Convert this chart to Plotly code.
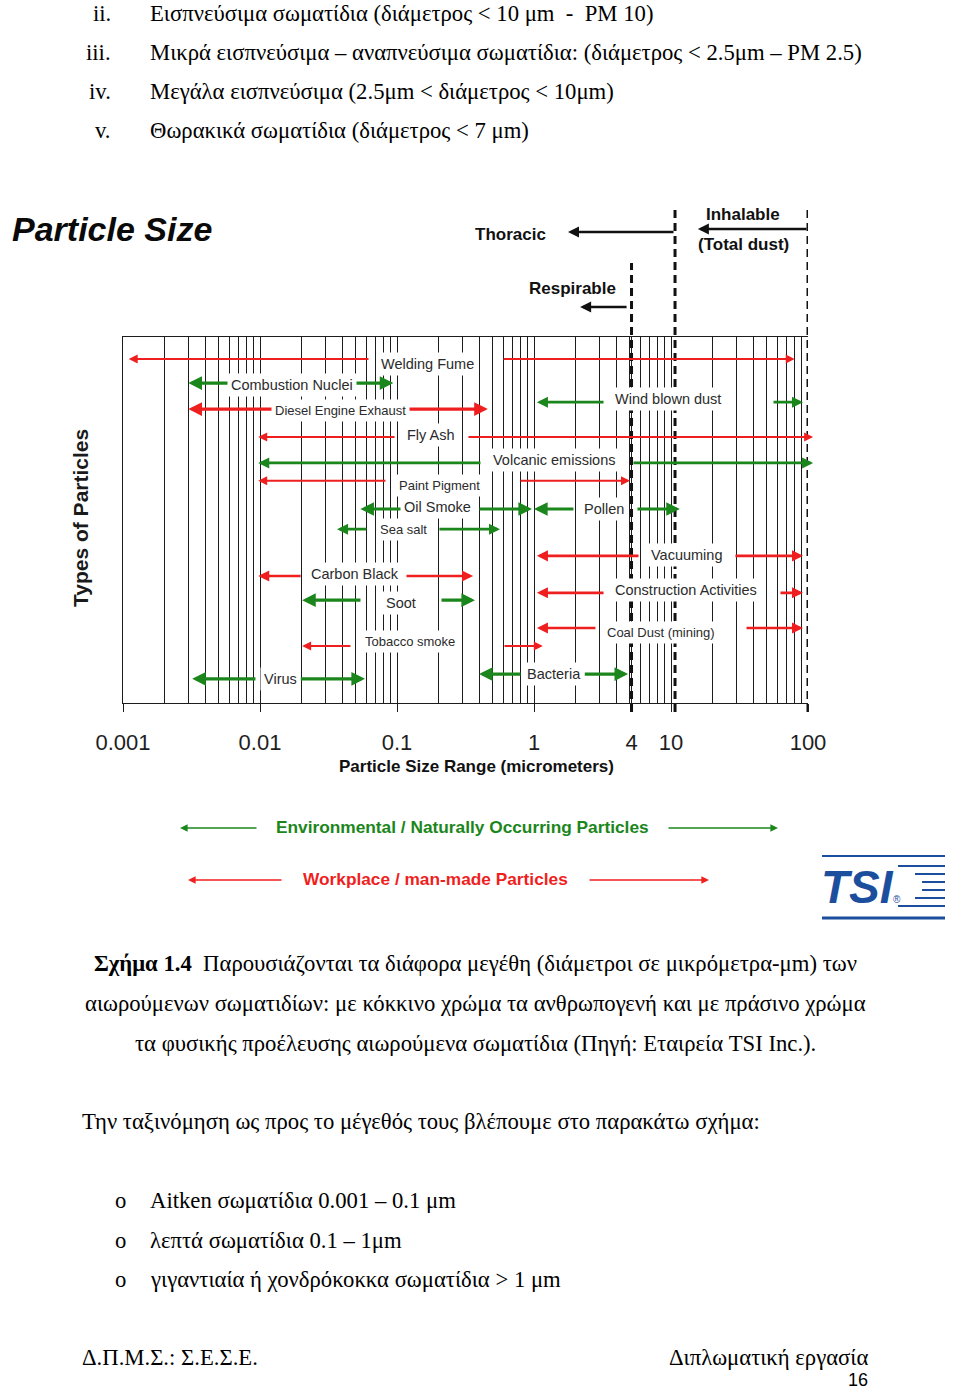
import math
import plotly.graph_objects as go

W, H = 960, 1391

# ---------------- data ----------------
particle_types = ["Welding Fume", "Combustion Nuclei", "Wind blown dust", "Diesel Engine Exhaust",
                  "Fly Ash", "Volcanic emissions", "Paint Pigment", "Oil Smoke", "Pollen",
                  "Sea salt", "Vacuuming", "Carbon Black", "Construction Activities", "Soot",
                  "Coal Dust (mining)", "Tobacco smoke", "Bacteria", "Virus"]
origin = ["work", "env", "env", "work", "work", "env", "work", "env", "env",
          "env", "work", "work", "work", "env", "work", "work", "env", "env"]
# range of sizes (micrometers): arrow tips
size_min = [0.0011, 0.003, 1.05, 0.003, 0.0097, 0.0097, 0.0097, 0.054, 1.0,
            0.0365, 1.05, 0.0097, 1.05, 0.0203, 1.05, 0.0203, 0.397, 0.0032]
size_max = [80, 0.094, 92, 0.46, 109, 109, 5.02, 0.967, 11.6,
            0.565, 92, 0.359, 92, 0.371, 92, 1.16, 4.86, 0.0584]
# where the arrow shafts start on each side of the label
gap_lo = [0.0635, 0.00625, 3.30, 0.0129, 0.0984, 0.417, 0.0845, 0.1106, 1.99,
          0.0614, 5.94, 0.0203, 3.30, 0.0555, 2.88, 0.0469, 0.817, 0.0095]
gap_hi = [0.584, 0.0477, 54.6, 0.1164, 0.324, 5.19, 0.777, 0.390, 5.55,
          0.199, 28.8, 0.1144, 61.4, 0.206, 34.7, 0.594, 2.28, 0.0193]
label_at = [0.166, 0.0171, 9.5, 0.039, 0.177, 1.42, 0.203, 0.199, 3.24,
            0.111, 12.9, 0.0494, 12.9, 0.107, 8.45, 0.124, 1.40, 0.014]
row_level = [94.0, 87.4, 82.2, 80.3, 72.7, 65.6, 60.7, 53.0, 53.0,
             47.5, 40.2, 34.7, 30.1, 28.1, 20.5, 15.6, 7.9, 6.6]

zone_names = ["Respirable", "Thoracic", "Inhalable"]
zone_cut = [5.15, 10.7, 100]
zone_tip = [2.17, 1.77, 15.7]
zone_tail = [4.86, 10.7, 100]

tick_vals = [0.001, 0.01, 0.1, 1, 5.15, 10, 100]
tick_text = ["0.001", "0.01", "0.1", "1", "4", "10", "100"]
minor_vals = [k * 10 ** d for d in range(-3, 2) for k in range(2, 10)]

# ---------------- styles ----------------
SANS = "Liberation Sans, Arial, sans-serif"
SERIF = "Liberation Serif, Times New Roman, serif"
COL = {"env": "#1b861b", "work": "#ef1f1f"}
weight = {"Welding Fume": "thin", "Fly Ash": "thin", "Paint Pigment": "thin", "Tobacco smoke": "thin",
          "Combustion Nuclei": "bold", "Diesel Engine Exhaust": "bold", "Oil Smoke": "bold",
          "Pollen": "bold", "Soot": "bold", "Virus": "bold", "Bacteria": "bold"}
ARROW = {"thin": (2.0, 0.9), "mid": (2.6, 0.85), "bold": (3.2, 0.85)}
small_font = {"Diesel Engine Exhaust", "Paint Pigment", "Coal Dust (mining)", "Tobacco smoke", "Sea salt"}
label_dy = {"Welding Fume": -5, "Combustion Nuclei": -2, "Wind blown dust": 3, "Diesel Engine Exhaust": -1,
            "Fly Ash": 2, "Volcanic emissions": 3, "Paint Pigment": -5, "Oil Smoke": 2, "Vacuuming": 1,
            "Carbon Black": 2, "Construction Activities": 3, "Soot": -3, "Coal Dust (mining)": -5,
            "Tobacco smoke": 4}


def px(p):
    return p / W


def py(p):
    return 1 - p / H


lg = math.log10

fig = go.Figure()
fig.add_trace(go.Scatter(x=label_at, y=row_level, mode="markers", marker=dict(opacity=0),
                         hovertext=particle_types, hoverinfo="text", showlegend=False))

ann = []
# particle range arrows
for i, name in enumerate(particle_types):
    w, s = ARROW[weight.get(name, "mid")]
    c = COL[origin[i]]
    for tail, tip in ((gap_lo[i], size_min[i]), (gap_hi[i], size_max[i])):
        ann.append(dict(x=lg(tip), y=row_level[i], xref="x", yref="y",
                        ax=lg(tail), ay=0, axref="x", ayref="pixel",
                        text="", showarrow=True, arrowhead=2, arrowsize=s,
                        arrowwidth=w, arrowcolor=c, standoff=0))
for i, name in enumerate(particle_types):
    ann.append(dict(x=lg(label_at[i]), y=row_level[i], xref="x", yref="y",
                    yshift=label_dy.get(name, 0), text=name, showarrow=False,
                    bgcolor="white", borderpad=3,
                    font=dict(family=SANS, size=13 if name in small_font else 14.5, color="#2b2b2b")))

# deposition zone arrows (above the chart)
zone_arrow_y = {"Respirable": 307, "Thoracic": 232, "Inhalable": 229}
for i, name in enumerate(zone_names):
    ann.append(dict(x=lg(zone_tip[i]), y=py(zone_arrow_y[name]), xref="x", yref="paper",
                    ax=lg(zone_tail[i]), ay=0, axref="x", ayref="pixel", text="",
                    showarrow=True, arrowhead=2, arrowsize=0.85, arrowwidth=2.6,
                    arrowcolor="#111111", standoff=0))


def text(xp, yp, t, size, family=SANS, color="#111111", xanchor="center", bold=False, **kw):
    if bold:
        t = "<b>" + t + "</b>"
    d = dict(x=px(xp), y=py(yp), xref="paper", yref="paper", text=t, showarrow=False,
             xanchor=xanchor, yanchor="middle", font=dict(family=family, size=size, color=color))
    d.update(kw)
    ann.append(d)


text(510, 234, "Thoracic", 17, bold=True)
text(743, 214, "Inhalable", 17, bold=True)
text(743, 245, "(Total dust)", 17, bold=True)
text(572, 289, "Respirable", 17, bold=True)

text(10, 229, "<b><i>Particle Size</i></b>", 34, xanchor="left", color="#0a0a0a")
text(80, 518, "Types of Particles", 21, bold=True, textangle=-90, color="#1a1a1a")
text(476, 767, "Particle Size Range (micrometers)", 17, bold=True)

# legend lines
for (tip, tail, yy, c) in ((180, 258, 828, COL["env"]), (778, 667, 828, COL["env"]),
                           (188, 283, 880, COL["work"]), (709, 588, 880, COL["work"])):
    ann.append(dict(x=px(tip), y=py(yy), xref="paper", yref="paper", ax=tail - tip, ay=0,
                    axref="pixel", ayref="pixel", text="", showarrow=True, arrowhead=2,
                    arrowsize=0.9, arrowwidth=1.7, arrowcolor=c, standoff=0))
text(462, 827, "Environmental / Naturally Occurring Particles", 17.3, bold=True, color=COL["env"])
text(435, 879, "Workplace / man-made Particles", 17.3, bold=True, color=COL["work"])

# TSI logo
BLUE = "#1b4f9e"
text(857, 887, "<b><i>TSI</i></b>", 46, color=BLUE)
text(897, 899, "®", 10, color=BLUE)

# document text
FS = 22.7
top_lines = [("ii.", "Εισπνεύσιμα σωματίδια (διάμετρος &lt; 10 μm&nbsp; -&nbsp; PM 10)", 13),
             ("iii.", "Μικρά εισπνεύσιμα – αναπνεύσιμα σωματίδια: (διάμετρος &lt; 2.5μm – PM 2.5)", 52),
             ("iv.", "Μεγάλα εισπνεύσιμα (2.5μm &lt; διάμετρος &lt; 10μm)", 91),
             ("v.", "Θωρακικά σωματίδια (διάμετρος &lt; 7 μm)", 130)]
for num, t, yy in top_lines:
    text(113, yy, num, FS, family=SERIF, color="black", xanchor="right")
    text(148, yy, t, FS, family=SERIF, color="black", xanchor="left")

text(475, 964, "<b>Σχήμα 1.4</b>&nbsp; Παρουσιάζονται τα διάφορα μεγέθη (διάμετροι σε μικρόμετρα-μm) των",
     FS, family=SERIF, color="black")
text(475, 1003, "αιωρούμενων σωματιδίων: με κόκκινο χρώμα τα ανθρωπογενή και με πράσινο χρώμα",
     FS, family=SERIF, color="black")
text(475, 1043, "τα φυσικής προέλευσης αιωρούμενα σωματίδια (Πηγή: Εταιρεία TSI Inc.).",
     FS, family=SERIF, color="black")
text(80, 1121, "Την ταξινόμηση ως προς το μέγεθός τους βλέπουμε στο παρακάτω σχήμα:",
     FS, family=SERIF, color="black", xanchor="left")
for t, yy in (("Aitken σωματίδια 0.001 – 0.1 μm", 1200), ("λεπτά σωματίδια 0.1 – 1μm", 1240),
              ("γιγαντιαία ή χονδρόκοκκα σωματίδια &gt; 1 μm", 1279)):
    text(120, yy, "o", FS, family=SERIF, color="black")
    text(148, yy, t, FS, family=SERIF, color="black", xanchor="left")
text(80, 1357, "Δ.Π.Μ.Σ.: Σ.Ε.Σ.Ε.", FS, family=SERIF, color="black", xanchor="left")
text(870, 1357, "Διπλωματική εργασία", FS, family=SERIF, color="black", xanchor="right")
text(870, 1380, "16", 18, family=SANS, color="black", xanchor="right")

# shapes: deposition zone boundaries and logo lines
shapes = []
zone_top = {"Respirable": 263, "Thoracic": 205, "Inhalable": 205}
for i, name in enumerate(zone_names):
    shapes.append(dict(type="line", xref="x", yref="paper", x0=zone_cut[i], x1=zone_cut[i],
                       y0=py(712), y1=py(zone_top[name]),
                       line=dict(color="#111111", width=3, dash="8px,5px")))
logo_lines = [(822, 856, 2), (898, 866, 2), (915, 874, 2), (922, 882, 2), (922, 890, 2),
              (915, 898, 2), (898, 906, 2), (822, 918, 3)]
for x0, yy, lw in logo_lines:
    shapes.append(dict(type="line", xref="paper", yref="paper", x0=px(x0), x1=px(945),
                       y0=py(yy), y1=py(yy), line=dict(color=BLUE, width=lw)))

GRID = "#1c1c1c"
fig.update_layout(
    width=W, height=H, autosize=False,
    margin=dict(l=0, r=0, t=0, b=0, pad=0, autoexpand=False),
    paper_bgcolor="white", plot_bgcolor="white",
    showlegend=False,
    annotations=ann, shapes=shapes,
    xaxis=dict(type="log", range=[-3, 2], domain=[px(123), px(808)], automargin=False,
               showline=True, linecolor=GRID, linewidth=1, mirror=True,
               ticks="outside", ticklen=8, tickcolor=GRID, tickwidth=1,
               tickvals=tick_vals, ticktext=tick_text, ticklabelstandoff=12,
               tickfont=dict(family=SANS, size=22, color="#1e1e1e"),
               showgrid=True, gridcolor=GRID, gridwidth=1, zeroline=False,
               minor=dict(tickvals=minor_vals, showgrid=True, gridcolor=GRID, gridwidth=1, ticks="")),
    yaxis=dict(range=[0, 100], domain=[py(703), py(337)], showline=True, linecolor=GRID,
               automargin=False, linewidth=1, showticklabels=False, ticks="", showgrid=False,
               zeroline=False),
)

fig.write_html("out.html", config={"displayModeBar": False},
               post_script="document.body.style.margin='0px';document.body.style.overflow='hidden';")
